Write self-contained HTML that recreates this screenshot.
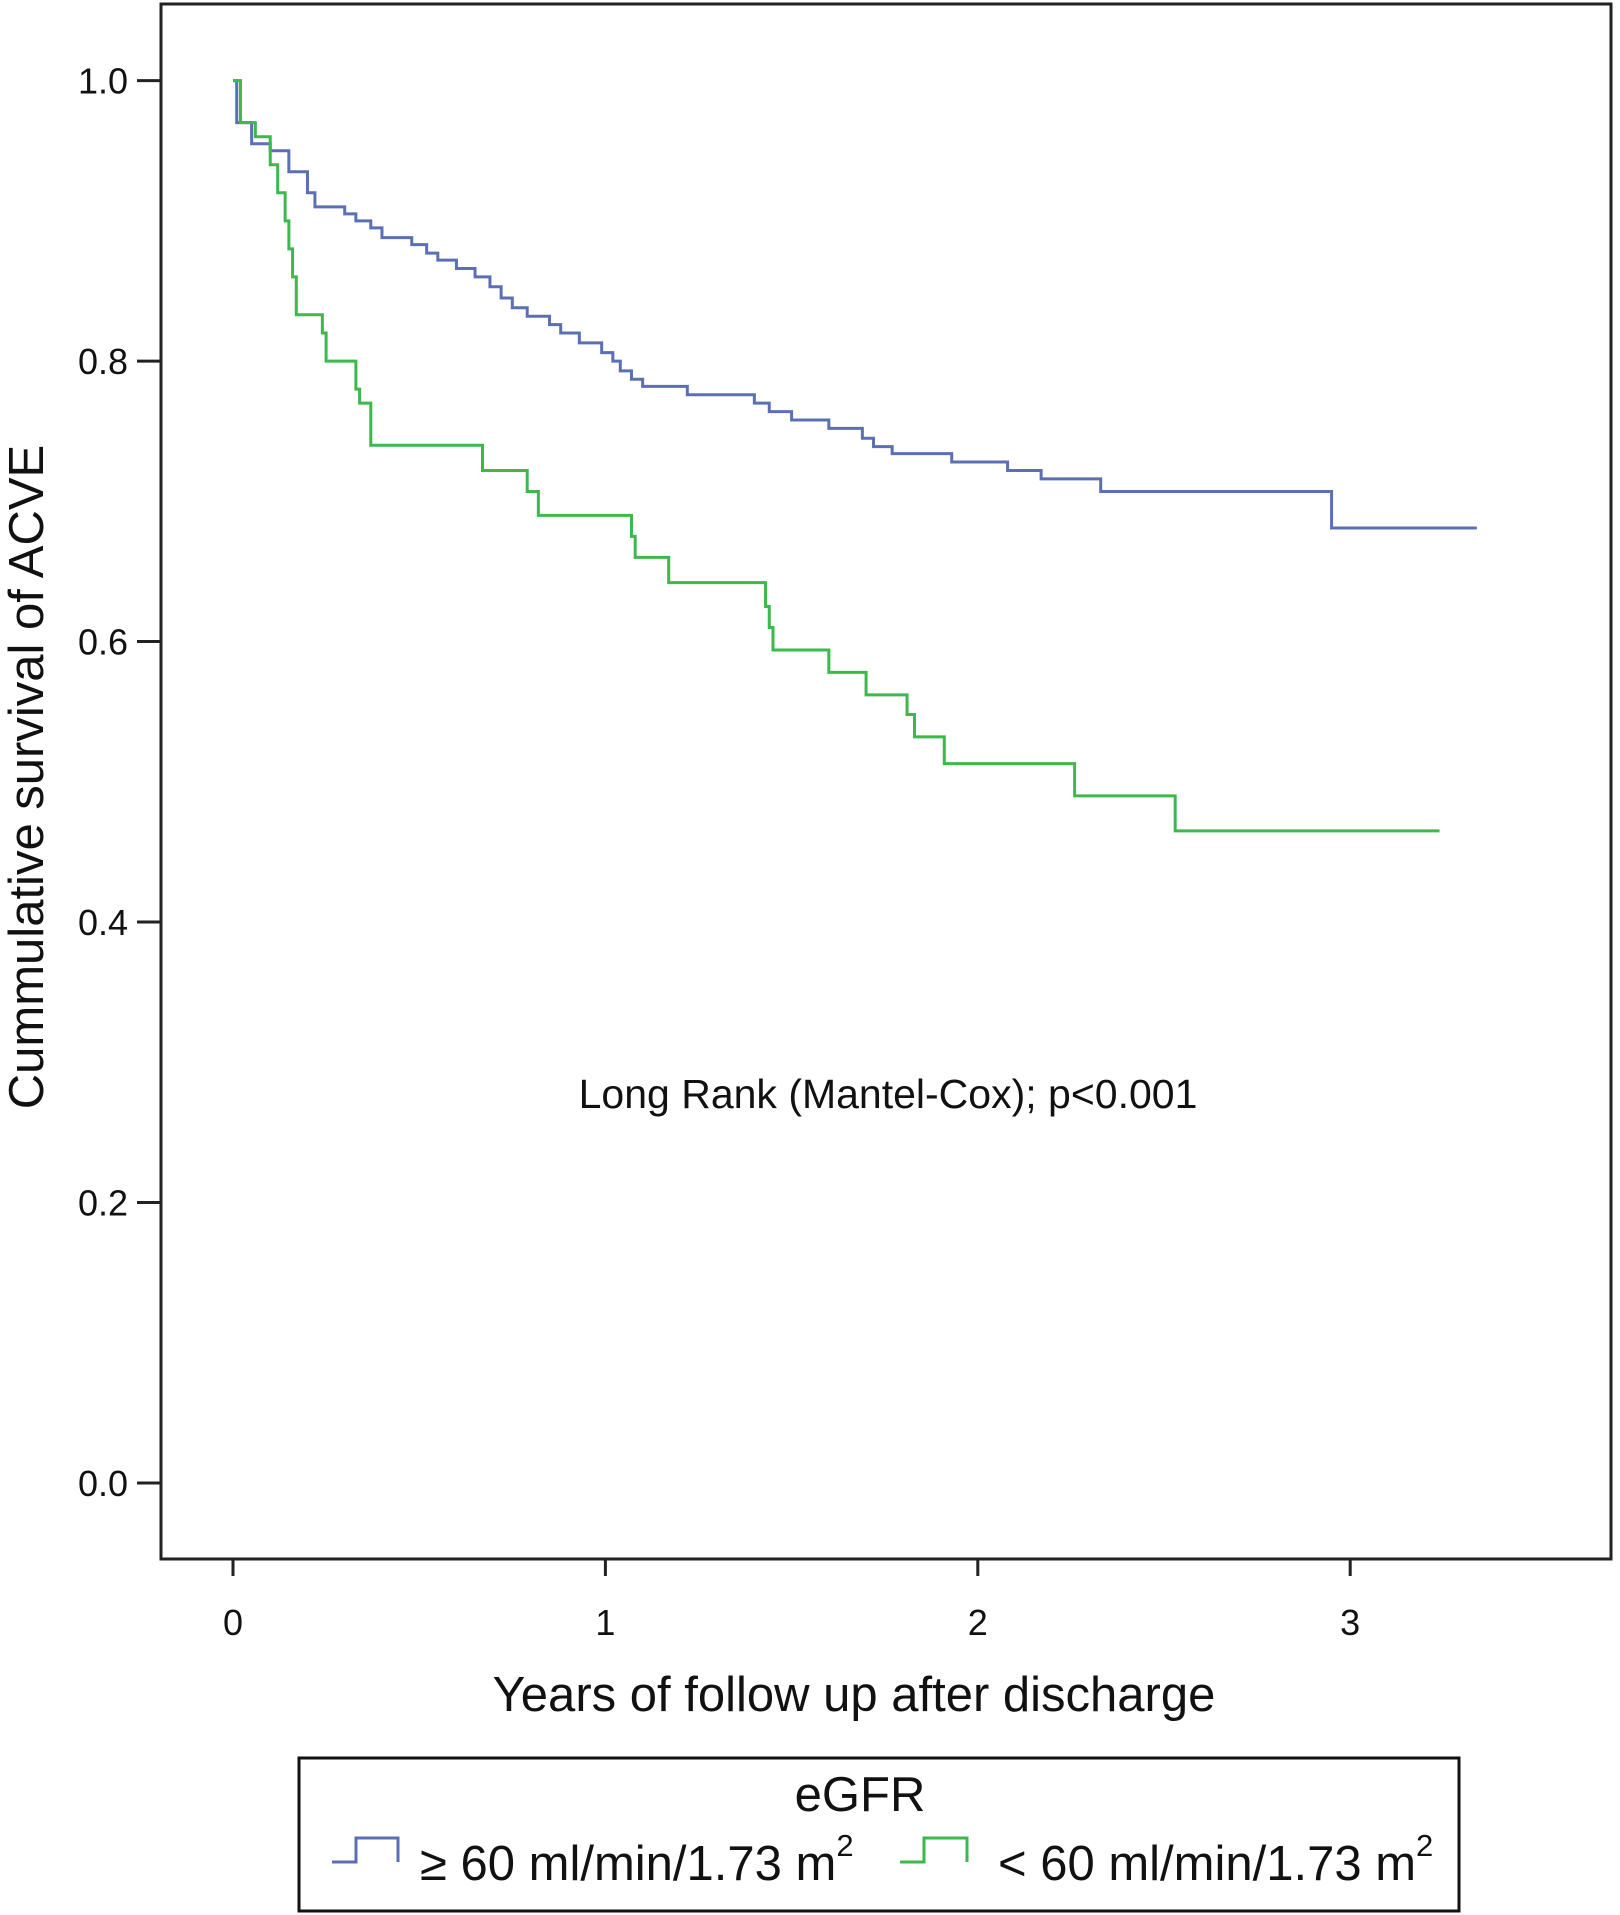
<!DOCTYPE html>
<html><head><meta charset="utf-8"><style>
html,body{margin:0;padding:0;background:#fff}
svg{display:block;font-family:"Liberation Sans",Arial,sans-serif}
</style></head><body>
<svg id="chart" width="1620" height="1915" viewBox="0 0 1620 1915">
<rect x="161" y="4" width="1450" height="1555" fill="#fff" stroke="#222" stroke-width="3"/>
<g id="axes"></g>
<g id="series"></g>
<text x="888" y="1108" font-size="41" text-anchor="middle" fill="#111">Long Rank (Mantel-Cox); p&lt;0.001</text>
<text x="854" y="1711" font-size="49" text-anchor="middle" fill="#111">Years of follow up after discharge</text>
<text transform="translate(43,777) rotate(-90)" font-size="49" text-anchor="middle" fill="#111">Cummulative survival of ACVE</text>
<g>
<rect x="299" y="1758" width="1160" height="153" fill="#fff" stroke="#111" stroke-width="3"/>
<text x="860" y="1811" font-size="49" text-anchor="middle" fill="#111">eGFR</text>
<path d="M332 1862 H356 V1838 H398 V1862" fill="none" stroke="#5b6fb5" stroke-width="3"/>
<text x="420" y="1880" font-size="49" fill="#111">≥ 60 ml/min/1.73 m<tspan font-size="31" dy="-24">2</tspan></text>
<path d="M900 1862 H924 V1838 H967 V1862" fill="none" stroke="#3cb84c" stroke-width="3"/>
<text x="998" y="1880" font-size="49" fill="#111">&lt; 60 ml/min/1.73 m<tspan font-size="31" dy="-24">2</tspan></text>
</g>
</svg>
<script>
const yTicks=[0.0,0.2,0.4,0.6,0.8,1.0];
const yTickLabels=["0.0","0.2","0.4","0.6","0.8","1.0"];
const xTicks=[0,1,2,3];
const xTickLabels=["0","1","2","3"];
const blueTimes=[0,0.01,0.05,0.1,0.15,0.2,0.22,0.3,0.33,0.37,0.4,0.48,0.52,0.55,0.6,0.65,0.69,0.72,0.75,0.79,0.85,0.88,0.93,0.99,1.02,1.04,1.07,1.1,1.22,1.4,1.44,1.5,1.6,1.69,1.72,1.77,1.93,2.08,2.17,2.33,2.95];
const blueSurv=[1.0,0.97,0.955,0.95,0.935,0.92,0.91,0.905,0.9,0.895,0.888,0.883,0.877,0.872,0.866,0.86,0.853,0.845,0.838,0.832,0.826,0.82,0.813,0.806,0.8,0.793,0.787,0.782,0.776,0.77,0.764,0.758,0.752,0.745,0.739,0.734,0.728,0.722,0.716,0.707,0.681];
const blueEnd=3.34;
const greenTimes=[0,0.02,0.06,0.1,0.12,0.14,0.15,0.16,0.17,0.24,0.25,0.33,0.34,0.37,0.67,0.79,0.82,1.07,1.08,1.17,1.43,1.44,1.45,1.6,1.7,1.81,1.83,1.91,2.26,2.53];
const greenSurv=[1.0,0.97,0.96,0.94,0.92,0.9,0.88,0.86,0.833,0.82,0.8,0.78,0.77,0.74,0.722,0.707,0.69,0.675,0.66,0.642,0.625,0.61,0.594,0.578,0.562,0.548,0.532,0.513,0.49,0.465];
const greenEnd=3.24;

const NS="http://www.w3.org/2000/svg";
function X(t){return 233+t*372.4;}
function Y(v){return 1483-v*1402.4;}
const axes=document.getElementById('axes');
const series=document.getElementById('series');
function mk(tag,attrs,parent){const e=document.createElementNS(NS,tag);for(const k in attrs)e.setAttribute(k,attrs[k]);parent.appendChild(e);return e;}
yTicks.forEach((v,i)=>{
  const l=mk('line',{x1:137,x2:161,y1:Y(v),y2:Y(v),stroke:'#222','stroke-width':3},axes);
  
  
  const t=mk('text',{x:128,y:Y(v)+13,'font-size':36,'text-anchor':'end',fill:'#111'},axes);
  t.textContent=yTickLabels[i];
  
  
});
xTicks.forEach((v,i)=>{
  const l=mk('line',{x1:X(v),x2:X(v),y1:1559,y2:1576,stroke:'#222','stroke-width':3},axes);
  
  
  const t=mk('text',{x:X(v),y:1635,'font-size':36,'text-anchor':'middle',fill:'#111'},axes);
  t.textContent=xTickLabels[i];
  
  
});
function stepPath(ts,ss,end){
  let d='M'+X(ts[0])+' '+Y(ss[0]);
  for(let i=1;i<ts.length;i++){d+=' H'+X(ts[i])+' V'+Y(ss[i]);}
  d+=' H'+X(end);
  return d;
}
const bp=mk('path',{d:stepPath(blueTimes,blueSurv,blueEnd),fill:'none',stroke:'#5b6fb5','stroke-width':3},series);


const gp=mk('path',{d:stepPath(greenTimes,greenSurv,greenEnd),fill:'none',stroke:'#3cb84c','stroke-width':3},series);


</script>
</body></html>
